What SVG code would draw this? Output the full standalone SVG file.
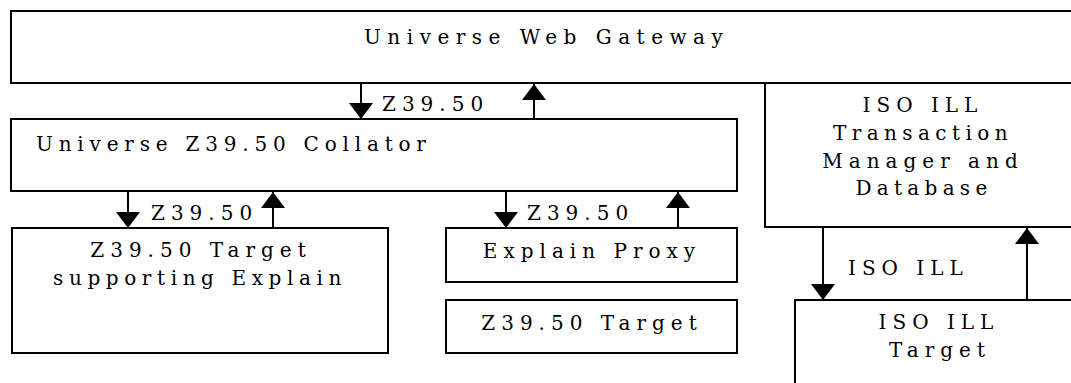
<svg xmlns="http://www.w3.org/2000/svg" width="1071" height="383" viewBox="0 0 1071 383">
<style>
.box{fill:#fff;stroke:#000;stroke-width:2}
.t{font-family:'DejaVu Serif',serif;font-size:20px;letter-spacing:6px;fill:#000}
.m{text-anchor:middle}
.c{stroke:#000;stroke-width:2;fill:none;marker-end:url(#ah)}
</style>
<defs>
<marker id="ah" viewBox="0 0 16 24" refX="16" refY="12" markerWidth="16" markerHeight="24" markerUnits="userSpaceOnUse" orient="auto">
<path d="M0,0 L16,12 L0,24 Z" fill="#000"/>
</marker>
</defs>
<rect width="1071" height="383" fill="#fff"/>
<g id="gateway">
<rect class="box" x="11" y="11" width="1080" height="72"/>
<text class="t" x="364" y="44" style="letter-spacing:6.5px">Universe Web Gateway</text>
</g>
<g id="tm">
<rect class="box" x="765" y="83" width="330" height="144"/>
<text class="t m" x="923" y="112">ISO ILL</text>
<text class="t m" x="923" y="140" style="letter-spacing:5.4px">Transaction</text>
<text class="t m" x="923" y="168">Manager and</text>
<text class="t m" x="924" y="195" style="letter-spacing:5.3px">Database</text>
</g>
<g id="collator">
<rect class="box" x="11" y="119" width="726" height="72"/>
<text class="t" x="36" y="151" style="letter-spacing:5.8px">Universe Z39.50 Collator</text>
</g>
<g id="target-explain">
<rect class="box" x="12" y="228" width="376" height="125"/>
<text class="t m" x="201" y="257">Z39.50 Target</text>
<text class="t m" x="200" y="285" style="letter-spacing:5.6px">supporting Explain</text>
</g>
<g id="explain-proxy">
<rect class="box" x="446" y="228" width="291" height="54"/>
<text class="t m" x="592" y="258">Explain Proxy</text>
</g>
<g id="z-target">
<rect class="box" x="446" y="300" width="291" height="53"/>
<text class="t m" x="592" y="330">Z39.50 Target</text>
</g>
<g id="ill-target">
<rect class="box" x="795" y="300" width="300" height="100"/>
<text class="t m" x="939" y="329">ISO ILL</text>
<text class="t m" x="940" y="357">Target</text>
</g>
<g id="connectors">
<line class="c" x1="361" y1="83" x2="361" y2="119"/>
<line class="c" x1="534" y1="119" x2="534" y2="84"/>
<line class="c" x1="128" y1="191" x2="128" y2="228"/>
<line class="c" x1="273" y1="228" x2="273" y2="192"/>
<line class="c" x1="506" y1="191" x2="506" y2="228"/>
<line class="c" x1="678" y1="228" x2="678" y2="192"/>
<line class="c" x1="823" y1="227" x2="823" y2="300"/>
<line class="c" x1="1027" y1="300" x2="1027" y2="228"/>
<text class="t" x="382" y="111">Z39.50</text>
<text class="t" x="151" y="220">Z39.50</text>
<text class="t" x="527" y="220">Z39.50</text>
<text class="t" x="848" y="275">ISO ILL</text>
</g>
</svg>
